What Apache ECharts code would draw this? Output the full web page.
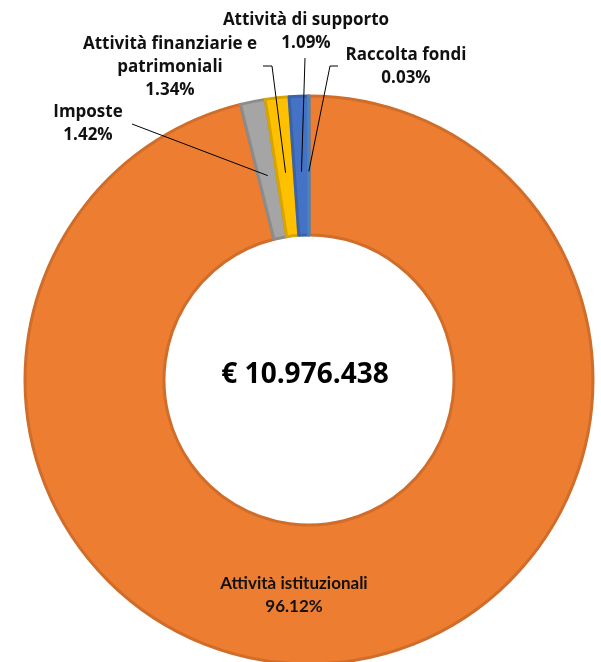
<!DOCTYPE html>
<html>
<head>
<meta charset="utf-8">
<script src="https://cdn.jsdelivr.net/npm/echarts@6/dist/echarts.min.js"></script>
<style>
  html, body { margin: 0; padding: 0; background: #fff; }
  #chart { width: 601px; height: 662px; }
</style>
</head>
<body>
<div id="chart"></div>
<script>
// dati
const categories = ['Attività istituzionali', 'Imposte', 'Attività finanziarie e\npatrimoniali', 'Attività di supporto', 'Raccolta fondi']
const values = [96.12, 1.42, 1.34, 1.09, 0.03] // percentuali
const totalLabel = '€ 10.976.438'

const colors = ['#ED7D31', '#A5A5A5', '#FFC000', '#4472C4', '#5B9BD5']
const borders = ['#D06D2A', '#8C8C8C', '#D9A300', '#3A62A8', '#4A84BA']

// posizione etichette (testo) e punti della linea guida
const labelPos = [
  { x: 294, y: 595 },
  { x: 88, y: 124, line: [[132, 124], [132, 124]] },
  { x: 170, y: 67, line: [[272, 66], [263, 66]] },
  { x: 306, y: 32, line: [[305, 58], [305, 58]] },
  { x: 406, y: 67, line: [[330, 66], [338, 66]] }
]

const center = [309, 380]
const radius = [145, 284]
const startAngle = 90

// angolo medio di ogni fetta (gradi), dai valori
const total = values.reduce((s, v) => s + v, 0)
let acc = 0
const midAngles = values.map(v => {
  const m = startAngle - (acc + v / 2) / total * 360
  acc += v
  return m
})

const myChart = echarts.init(document.getElementById('chart'))

// serie delle fette
const sliceData = categories.map((name, i) => ({
  name,
  value: values[i],
  itemStyle: { color: colors[i], borderColor: borders[i] }
}))

// serie trasparente sopra, solo per etichette e linee guida
const labelData = categories.map((name, i) => {
  const item = { name, value: values[i] }
  if (i === 0) {
    item.label = {
      position: 'inside',
      fontFamily: 'Lato, sans-serif',
      fontSize: 17
    }
    item.labelLine = { show: false }
  }
  return item
})

const option = {
  animation: false,
  graphic: [
    {
      type: 'text',
      x: 305,
      y: 375,
      z: 10,
      style: {
        text: totalLabel,
        font: 'bold 28px "Open Sans", sans-serif',
        fill: '#000',
        align: 'center',
        verticalAlign: 'middle'
      }
    }
  ],
  series: [
    {
      type: 'pie',
      center,
      radius,
      startAngle,
      clockwise: true,
      data: sliceData,
      itemStyle: { borderWidth: 3 },
      label: { show: false },
      labelLine: { show: false },
      emphasis: { disabled: true },
      silent: true
    },
    {
      type: 'pie',
      z: 5,
      center,
      radius,
      startAngle,
      clockwise: true,
      avoidLabelOverlap: false,
      data: labelData,
      itemStyle: { color: 'rgba(0,0,0,0)', borderWidth: 0 },
      label: {
        show: true,
        position: 'outside',
        formatter: '{b}\n{d}%',
        color: '#111',
        fontFamily: '"Open Sans", sans-serif',
        fontWeight: 'bold',
        fontSize: 17,
        lineHeight: 23,
        align: 'center'
      },
      labelLine: {
        show: true,
        length: 20,
        length2: 10,
        lineStyle: { color: '#000', width: 1 }
      },
      labelLayout: function (params) {
        const i = params.dataIndex
        const p = labelPos[i]
        const out = { x: p.x, y: p.y, align: 'center', verticalAlign: 'middle' }
        if (p.line) {
          // punto di partenza a metà anello
          const r = (radius[0] + radius[1]) / 2 - 6
          const a = midAngles[i] * Math.PI / 180
          const anchor = [center[0] + r * Math.cos(a), center[1] - r * Math.sin(a)]
          out.labelLinePoints = [anchor, p.line[0], p.line[1]]
        }
        return out
      },
      emphasis: { disabled: true },
      silent: true
    }
  ]
}
myChart.setOption(option)
</script>
</body>
</html>
